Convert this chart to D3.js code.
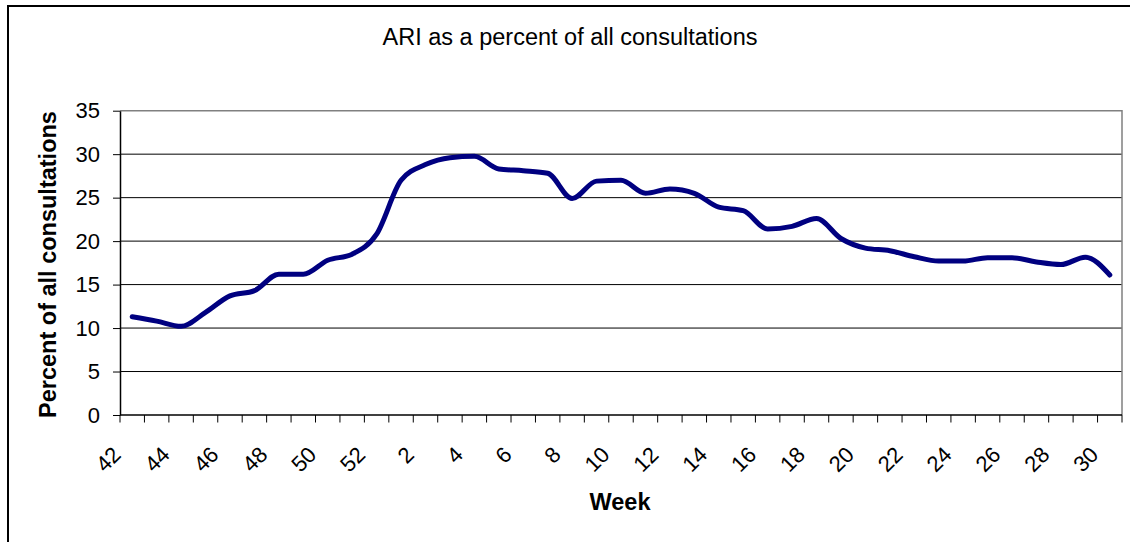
<!DOCTYPE html>
<html>
<head>
<meta charset="utf-8">
<script src="https://cdn.jsdelivr.net/npm/d3@7"></script>
<style>
body { margin: 0; background: #fff; }
svg { display: block; font-family: "Liberation Sans", Arial, sans-serif; }
</style>
</head>
<body>
<div id="graphic"></div>
<script>
// weeks 42..52 then 1..30
const weeks = ["42","43","44","45","46","47","48","49","50","51","52",
  "1","2","3","4","5","6","7","8","9","10","11","12","13","14","15",
  "16","17","18","19","20","21","22","23","24","25","26","27","28","29","30"];
const ariPercent = [11.3,10.8,10.2,11.8,13.7,14.3,16.2,16.2,17.8,18.5,20.8,
  27.0,28.8,29.6,29.75,28.3,28.1,27.8,24.9,26.9,27.0,25.5,26.0,25.5,23.9,23.5,
  21.4,21.7,22.6,20.3,19.2,18.9,18.2,17.7,17.7,18.1,18.1,17.6,17.3,18.15,16.1];
const yTicks = [0,5,10,15,20,25,30,35];

const W = 1130, H = 542;
const plot = {left: 120, right: 1122, top: 110.7, bottom: 415};

var svg = d3.select("#graphic").append("svg")
    .attr("width", W)
    .attr("height", H)

// outer chart border (runs off the right and bottom)
svg.append("rect")
    .attr("x", 8).attr("y", 6)
    .attr("width", W + 20).attr("height", H + 20)
    .attr("fill", "#fff")
    .attr("stroke", "#000")
    .attr("stroke-width", 2)

var x = d3.scaleBand()
    .domain(weeks)
    .range([plot.left, plot.right])

var y = d3.scaleLinear()
    .domain([0, 35])
    .range([plot.bottom, plot.top])

// gridlines
svg.append("g")
    .selectAll("line")
    .data(yTicks.filter(d => d > 0 && d < 35))
    .enter().append("line")
    .attr("x1", plot.left).attr("x2", plot.right)
    .attr("y1", d => y(d)).attr("y2", d => y(d))
    .attr("stroke", "#000")
    .attr("stroke-width", 1)

// plot frame top + right in gray
svg.append("path")
    .attr("d", `M${plot.left},${plot.top}H${plot.right}V${plot.bottom}`)
    .attr("fill", "none")
    .attr("stroke", "#808080")
    .attr("stroke-width", 1.5)

// y axis
svg.append("g")
    .attr("transform", `translate(${plot.left},0)`)
    .call(d3.axisLeft(y).tickValues(yTicks).tickSize(7).tickPadding(13).tickSizeOuter(0))
    .call(g => g.selectAll(".domain").attr("stroke", "#000").attr("stroke-width", 1.5))
    .call(g => g.selectAll(".tick line").attr("stroke", "#000"))
    .call(g => g.selectAll(".tick text")
        .attr("font-size", 22)
        .attr("font-family", "Liberation Sans, Arial, sans-serif")
        .attr("fill", "#000"))

// x axis: line + ticks at category boundaries
var xg = svg.append("g")
xg.append("line")
    .attr("x1", plot.left).attr("x2", plot.right)
    .attr("y1", plot.bottom).attr("y2", plot.bottom)
    .attr("stroke", "#000").attr("stroke-width", 1.5)
xg.selectAll(".xtick")
    .data(weeks.map(w => x(w)).concat([plot.right]))
    .enter().append("line")
    .attr("class", "xtick")
    .attr("x1", d => d).attr("x2", d => d)
    .attr("y1", plot.bottom).attr("y2", plot.bottom + 7.5)
    .attr("stroke", "#000")

xg.selectAll(".xlab")
    .data(weeks.filter((d, i) => i % 2 == 0))
    .enter().append("text")
    .attr("class", "xlab")
    .attr("transform", d => `translate(${x(d) + x.bandwidth()/2 - 10},${plot.bottom + 41}) rotate(-45)`)
    .attr("text-anchor", "end")
    .attr("font-size", 22)
    .text(d => d)

// the line
var line = d3.line()
    .x((d, i) => x(weeks[i]) + x.bandwidth()/2)
    .y(d => y(d))
    .curve(d3.curveMonotoneX)

svg.append("path")
    .datum(ariPercent)
    .attr("d", line)
    .attr("fill", "none")
    .attr("stroke", "#000080")
    .attr("stroke-width", 5)
    .attr("stroke-linejoin", "round")
    .attr("stroke-linecap", "round")

// titles
svg.append("text")
    .attr("x", 570).attr("y", 45)
    .attr("text-anchor", "middle")
    .attr("font-size", 23.5)
    .text("ARI as a percent of all consultations")

svg.append("text")
    .attr("transform", `translate(56,264.5) rotate(-90)`)
    .attr("text-anchor", "middle")
    .attr("font-size", 23.5)
    .attr("font-weight", "bold")
    .text("Percent of all consultations")

svg.append("text")
    .attr("x", 620).attr("y", 510)
    .attr("text-anchor", "middle")
    .attr("font-size", 23.5)
    .attr("font-weight", "bold")
    .text("Week")
</script>
</body>
</html>
